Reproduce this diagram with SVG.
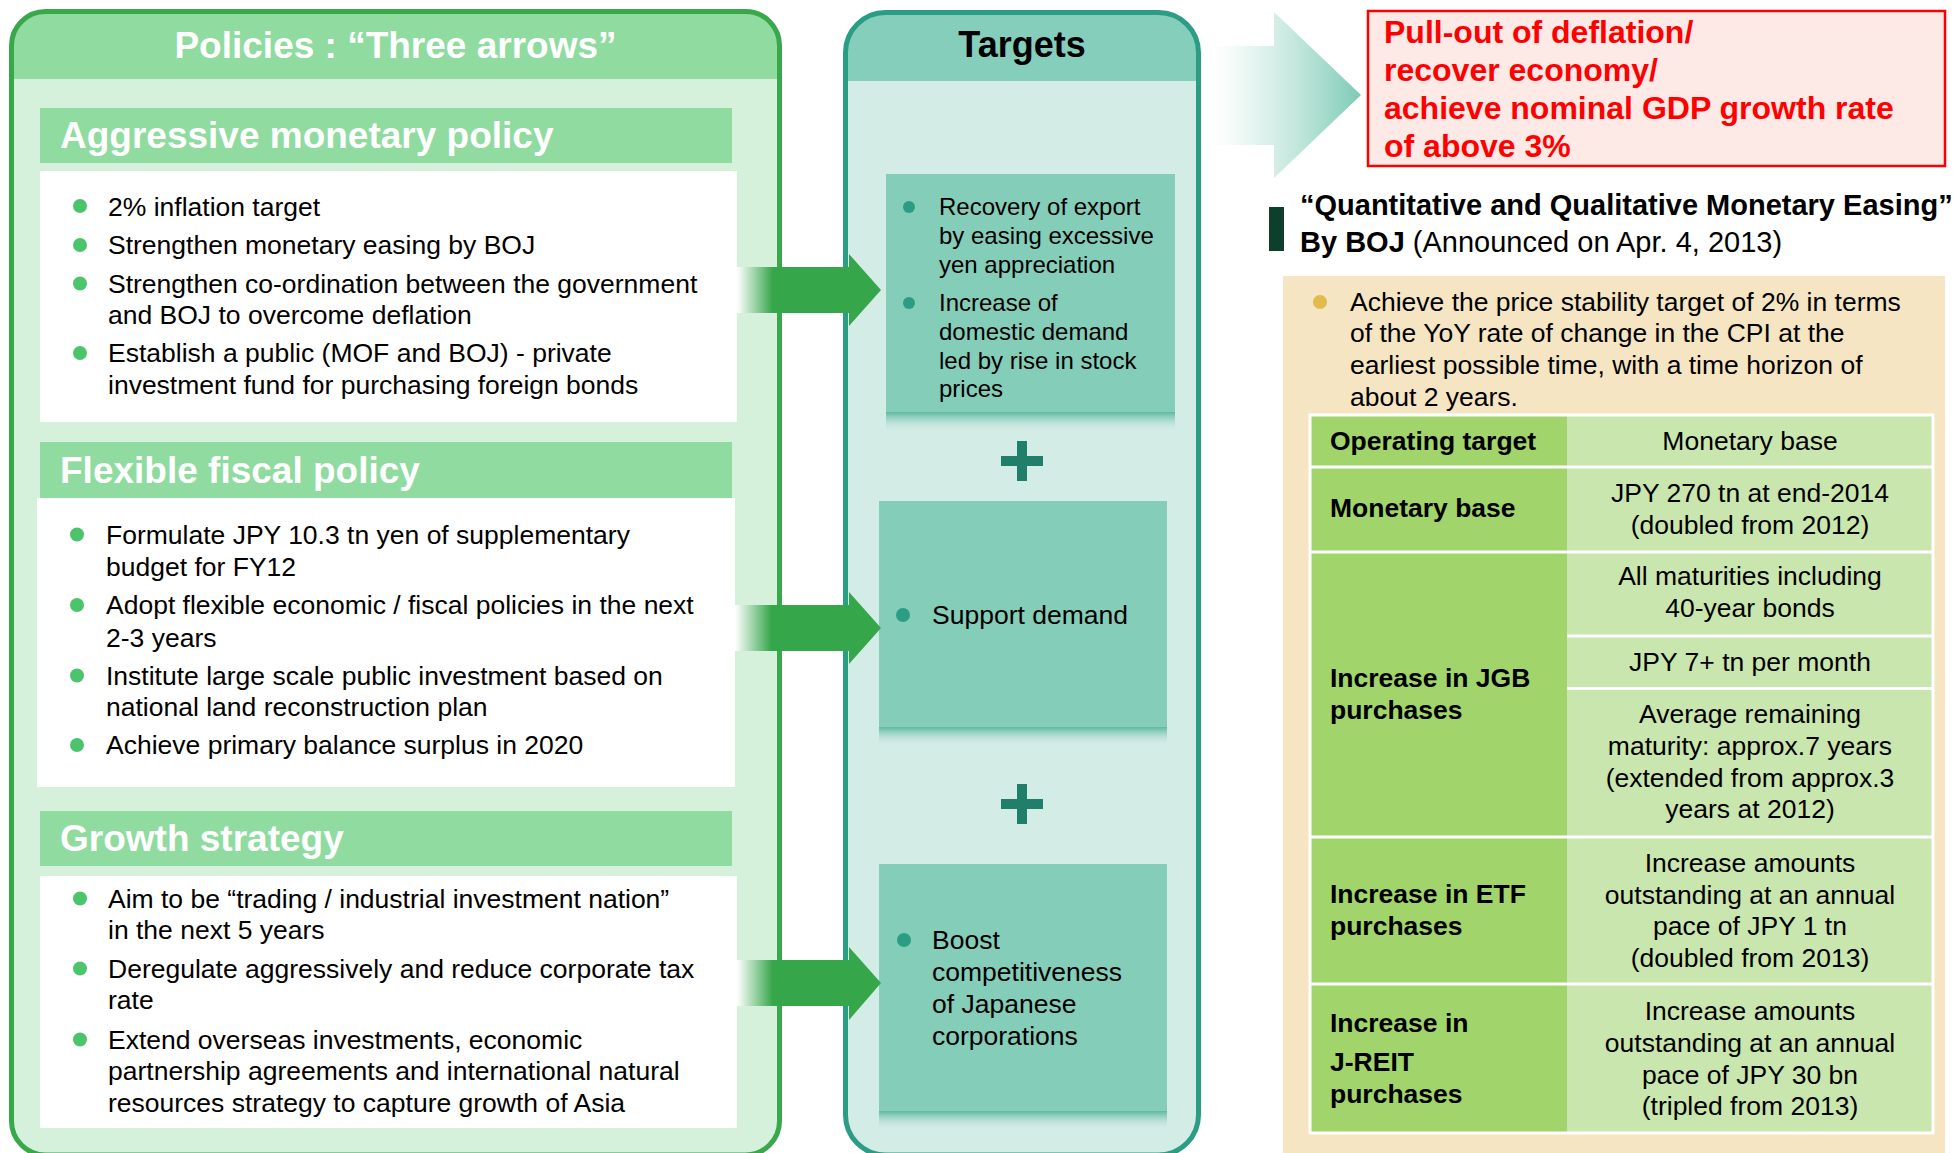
<svg xmlns="http://www.w3.org/2000/svg" width="1953" height="1153" viewBox="0 0 1953 1153">
<defs>
<style>
text{font-family:"Liberation Sans",Arial,Helvetica,sans-serif;font-size:26.5px;fill:#000}
.hd{font-weight:bold;fill:#fff;font-size:37px}
.ttl{font-weight:bold;font-size:36px}
.sec{fill:#8fdba0}
.wbox{fill:#fff}
.gdot{fill:#4cc46b}
.tdot{fill:#2a9d84}
.tbox{fill:#84cdb9}
.tg{font-size:24px}
.bold{font-weight:bold}
.mid{text-anchor:middle}
.red{font-weight:bold;fill:#ff0000;font-size:32px}
.plus{fill:#1f7f6a}
.grid{stroke:#fff;stroke-width:3;fill:none}
.arrow{fill:url(#arrowFade)}
.shadow{fill:url(#boxShadow)}
</style>
<linearGradient id="arrowFade" x1="0" y1="0" x2="1" y2="0">
<stop offset="0" stop-color="#ffffff"/>
<stop offset="0.25" stop-color="#35a64a"/>
<stop offset="1" stop-color="#35a64a"/>
</linearGradient>
<linearGradient id="boxShadow" x1="0" y1="0" x2="0" y2="1">
<stop offset="0" stop-color="#5db8a0"/>
<stop offset="1" stop-color="#d3ece6" stop-opacity="0"/>
</linearGradient>
<linearGradient id="bigFade" x1="0" y1="0" x2="1" y2="0">
<stop offset="0" stop-color="#ffffff" stop-opacity="0.6"/>
<stop offset="1" stop-color="#7ccab4"/>
</linearGradient>
</defs>

<rect width="1953" height="1153" fill="#fff"/>

<!-- Left column: the three policy arrows -->
<g id="policies">
<rect x="11.5" y="11.5" width="768" height="1143.5" rx="34" fill="#d5f1dc"/>
<path d="M11.5,79 V45.5 A34,34 0 0 1 45.5,11.5 H745.5 A34,34 0 0 1 779.5,45.5 V79 Z" fill="#8fdba0"/>
<rect x="11.5" y="11.5" width="768" height="1143.5" rx="34" fill="none" stroke="#38a84b" stroke-width="5"/>
<text class="hd mid" x="395.5" y="58">Policies : “Three arrows”</text>
</g>

<g id="monetary-policy">
<rect class="sec" x="40" y="108" width="692" height="55"/>
<text class="hd" x="60" y="148">Aggressive monetary policy</text>
<rect class="wbox" x="40" y="171" width="697" height="251"/>
<circle class="gdot" cx="80" cy="206" r="7"/>
<text x="108" y="215.5">2% inflation target</text>
<circle class="gdot" cx="80" cy="245" r="7"/>
<text x="108" y="254">Strengthen monetary easing by BOJ</text>
<circle class="gdot" cx="80" cy="283.5" r="7"/>
<text x="108" y="292.5">Strengthen co-ordination between the government</text>
<text x="108" y="323.5">and BOJ to overcome deflation</text>
<circle class="gdot" cx="80" cy="353" r="7"/>
<text x="108" y="362">Establish a public (MOF and BOJ) - private</text>
<text x="108" y="393.5">investment fund for purchasing foreign bonds</text>
</g>

<g id="fiscal-policy">
<rect class="sec" x="40" y="442" width="692" height="56"/>
<text class="hd" x="60" y="483">Flexible fiscal policy</text>
<rect class="wbox" x="37" y="498" width="698" height="289"/>
<circle class="gdot" cx="77" cy="534.5" r="7"/>
<text x="106" y="543.5">Formulate JPY 10.3 tn yen of supplementary</text>
<text x="106" y="575.5">budget for FY12</text>
<circle class="gdot" cx="77" cy="605" r="7"/>
<text x="106" y="614">Adopt flexible economic / fiscal policies in the next</text>
<text x="106" y="646.5">2-3 years</text>
<circle class="gdot" cx="77" cy="675.5" r="7"/>
<text x="106" y="684.5">Institute large scale public investment based on</text>
<text x="106" y="716">national land reconstruction plan</text>
<circle class="gdot" cx="77" cy="745" r="7"/>
<text x="106" y="754">Achieve primary balance surplus in 2020</text>
</g>

<g id="growth-strategy">
<rect class="sec" x="40" y="811" width="692" height="55"/>
<text class="hd" x="60" y="851">Growth strategy</text>
<rect class="wbox" x="40" y="876" width="697" height="252"/>
<circle class="gdot" cx="80" cy="898.5" r="7"/>
<text x="108" y="907.5">Aim to be “trading / industrial investment nation”</text>
<text x="108" y="939">in the next 5 years</text>
<circle class="gdot" cx="80" cy="968.5" r="7"/>
<text x="108" y="977.5">Deregulate aggressively and reduce corporate tax</text>
<text x="108" y="1009">rate</text>
<circle class="gdot" cx="80" cy="1039.5" r="7"/>
<text x="108" y="1048.5">Extend overseas investments, economic</text>
<text x="108" y="1080">partnership agreements and international natural</text>
<text x="108" y="1112">resources strategy to capture growth of Asia</text>
</g>

<!-- Middle column: targets -->
<g id="targets">
<rect x="845.5" y="12.5" width="353" height="1142.5" rx="40" fill="#d3ece6"/>
<path d="M845.5,81 V52.5 A40,40 0 0 1 885.5,12.5 H1158.5 A40,40 0 0 1 1198.5,52.5 V81 Z" fill="#85cebb"/>
<rect x="845.5" y="12.5" width="353" height="1142.5" rx="40" fill="none" stroke="#2a9d84" stroke-width="5"/>
<text class="ttl mid" x="1022" y="57">Targets</text>
</g>

<g id="target-exports">
<rect class="tbox" x="886" y="174" width="289" height="238"/>
<rect class="shadow" x="886" y="412" width="289" height="20"/>
<circle class="tdot" cx="909" cy="207" r="6"/>
<text class="tg" x="939" y="214.5">Recovery of export</text>
<text class="tg" x="939" y="243.5">by easing excessive</text>
<text class="tg" x="939" y="272.5">yen appreciation</text>
<circle class="tdot" cx="909" cy="303" r="6"/>
<text class="tg" x="939" y="311">Increase of</text>
<text class="tg" x="939" y="340">domestic demand</text>
<text class="tg" x="939" y="368.5">led by rise in stock</text>
<text class="tg" x="939" y="397">prices</text>
</g>

<g id="plus-1" class="plus">
<rect x="1001" y="456" width="42" height="10"/>
<rect x="1017" y="441" width="10" height="40"/>
</g>

<g id="target-demand">
<rect class="tbox" x="879" y="501" width="288" height="226"/>
<rect class="shadow" x="879" y="727" width="288" height="19"/>
<circle class="tdot" cx="903" cy="615" r="7"/>
<text x="932" y="624">Support demand</text>
</g>

<g id="plus-2" class="plus">
<rect x="1001" y="799" width="42" height="10"/>
<rect x="1017" y="784" width="10" height="40"/>
</g>

<g id="target-competitiveness">
<rect class="tbox" x="879" y="864" width="288" height="247"/>
<rect class="shadow" x="879" y="1111" width="288" height="19"/>
<circle class="tdot" cx="904" cy="940" r="7"/>
<text x="932" y="949">Boost</text>
<text x="932" y="981">competitiveness</text>
<text x="932" y="1013">of Japanese</text>
<text x="932" y="1045">corporations</text>
</g>

<!-- Right column: outcome and BOJ easing -->
<g id="outcome">
<rect x="1368" y="11" width="577" height="155" fill="#fdeae6" stroke="#ff0000" stroke-width="2.5"/>
<text class="red" x="1384" y="42.5">Pull-out of deflation/</text>
<text class="red" x="1384" y="81">recover economy/</text>
<text class="red" x="1384" y="119">achieve nominal GDP growth rate</text>
<text class="red" x="1384" y="157">of above 3%</text>
</g>

<g id="boj-easing">
<rect x="1269" y="207" width="15" height="44" fill="#0e3f2c"/>
<text class="bold" x="1300" y="215" style="font-size:29px">“Quantitative and Qualitative Monetary Easing”</text>
<text x="1300" y="252" style="font-size:29px"><tspan class="bold">By BOJ</tspan> (Announced on Apr. 4, 2013)</text>
<rect x="1283" y="276" width="662" height="877" fill="#f5e5c3"/>
<circle cx="1320" cy="302" r="7" fill="#e3bb4c"/>
<text x="1350" y="310.5">Achieve the price stability target of 2% in terms</text>
<text x="1350" y="342">of the YoY rate of change in the CPI at the</text>
<text x="1350" y="374">earliest possible time, with a time horizon of</text>
<text x="1350" y="406">about 2 years.</text>
</g>

<g id="boj-table">
<rect x="1310" y="415" width="257" height="718" fill="#a1d46b"/>
<rect x="1567" y="415" width="366" height="718" fill="#c9e6ae"/>
<path class="grid" d="M1310,415 H1933 V1133 H1310 Z M1310,467 H1933 M1310,552 H1933 M1567,636 H1933 M1567,688.5 H1933 M1310,837 H1933 M1310,984 H1933"/>
<text class="bold" x="1330" y="450">Operating target</text>
<text class="bold" x="1330" y="517">Monetary base</text>
<text class="bold" x="1330" y="687">Increase in JGB</text>
<text class="bold" x="1330" y="718.5">purchases</text>
<text class="bold" x="1330" y="903">Increase in ETF</text>
<text class="bold" x="1330" y="935">purchases</text>
<text class="bold" x="1330" y="1032">Increase in</text>
<text class="bold" x="1330" y="1071">J-REIT</text>
<text class="bold" x="1330" y="1103">purchases</text>
<text class="mid" x="1750" y="450">Monetary base</text>
<text class="mid" x="1750" y="502">JPY 270 tn at end-2014</text>
<text class="mid" x="1750" y="533.5">(doubled from 2012)</text>
<text class="mid" x="1750" y="585">All maturities including</text>
<text class="mid" x="1750" y="617">40-year bonds</text>
<text class="mid" x="1750" y="671">JPY 7+ tn per month</text>
<text class="mid" x="1750" y="723">Average remaining</text>
<text class="mid" x="1750" y="755">maturity: approx.7 years</text>
<text class="mid" x="1750" y="786.5">(extended from approx.3</text>
<text class="mid" x="1750" y="818">years at 2012)</text>
<text class="mid" x="1750" y="872">Increase amounts</text>
<text class="mid" x="1750" y="903.5">outstanding at an annual</text>
<text class="mid" x="1750" y="935">pace of JPY 1 tn</text>
<text class="mid" x="1750" y="967">(doubled from 2013)</text>
<text class="mid" x="1750" y="1020">Increase amounts</text>
<text class="mid" x="1750" y="1052">outstanding at an annual</text>
<text class="mid" x="1750" y="1083.5">pace of JPY 30 bn</text>
<text class="mid" x="1750" y="1115">(tripled from 2013)</text>
</g>

<!-- Connectors: policy arrows into targets, targets into outcome -->
<g id="connectors">
<polygon class="arrow" points="737,267 849,267 849,254 881,290 849,326 849,313 737,313"/>
<polygon class="arrow" points="735,605 849,605 849,592 881,628 849,664 849,651 735,651"/>
<polygon class="arrow" points="737,960 849,960 849,947 881,983 849,1020 849,1006 737,1006"/>
<polygon points="1213,46 1274,46 1274,12 1361,95 1274,178 1274,145 1213,145" fill="url(#bigFade)"/>
</g>
</svg>
